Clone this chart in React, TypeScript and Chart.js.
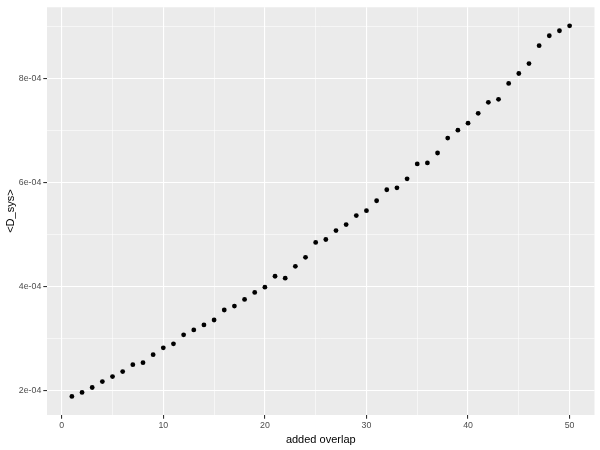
import { useEffect, useRef } from 'react';
import { Chart, registerables } from 'chart.js';

Chart.register(...registerables);

const addedOverlap: number[] = Array.from({ length: 50 }, (_, i) => i + 1);
const dSys: number[] = [
  1.891e-4, 1.968e-4, 2.063e-4, 2.178e-4, 2.273e-4, 2.369e-4, 2.503e-4, 2.541e-4, 2.694e-4, 2.827e-4,
  2.904e-4, 3.076e-4, 3.171e-4, 3.267e-4, 3.362e-4, 3.554e-4, 3.630e-4, 3.758e-4, 3.892e-4, 3.993e-4,
  4.203e-4, 4.165e-4, 4.394e-4, 4.566e-4, 4.853e-4, 4.910e-4, 5.082e-4, 5.197e-4, 5.369e-4, 5.464e-4,
  5.655e-4, 5.866e-4, 5.904e-4, 6.076e-4, 6.363e-4, 6.382e-4, 6.573e-4, 6.860e-4, 7.012e-4, 7.146e-4,
  7.337e-4, 7.547e-4, 7.605e-4, 7.911e-4, 8.102e-4, 8.293e-4, 8.637e-4, 8.828e-4, 8.924e-4, 9.019e-4,
];
const xTicks: number[] = [0, 5, 10, 15, 20, 25, 30, 35, 40, 45, 50];
const xMajor: number[] = [0, 10, 20, 30, 40, 50];
const yTicks: number[] = [2e-4, 3e-4, 4e-4, 5e-4, 6e-4, 7e-4, 8e-4, 9e-4];
const yMajorLabels: Record<string, string> = {
  '2': '2e-04',
  '4': '4e-04',
  '6': '6e-04',
  '8': '8e-04',
};

const yKey = (v: number) => String(Math.round(v * 1e4));
const isYMajor = (v: number) => yKey(v) in yMajorLabels;
const isXMajor = (v: number) => xMajor.includes(Math.round(v));

const panelBg = {
  id: 'panelBg',
  beforeDraw(chart: any) {
    const { ctx, chartArea } = chart;
    ctx.save();
    ctx.fillStyle = '#EBEBEB';
    ctx.fillRect(chartArea.left, chartArea.top, chartArea.right - chartArea.left, chartArea.bottom - chartArea.top);
    ctx.restore();
  },
};

export default function App() {
  const ref = useRef<HTMLCanvasElement>(null);
  useEffect(() => {
    document.body.style.margin = '0';
    const xMin = Math.min(...addedOverlap);
    const xMax = Math.max(...addedOverlap);
    const yMin = Math.min(...dSys);
    const yMax = Math.max(...dSys);
    const xe = (xMax - xMin) * 0.05;
    const ye = (yMax - yMin) * 0.05;
    const chart = new Chart(ref.current!, {
      type: 'scatter',
      data: {
        datasets: [
          {
            data: addedOverlap.map((x, i) => ({ x, y: dSys[i] })),
            backgroundColor: '#000000',
            borderWidth: 0,
            pointRadius: 2.4,
            pointHoverRadius: 2.4,
          },
        ],
      },
      plugins: [panelBg],
      options: {
        animation: false,
        responsive: false,
        maintainAspectRatio: false,
        layout: { padding: { top: 5.5, right: 5.5, left: 0, bottom: 0 } },
        plugins: { legend: { display: false }, tooltip: { enabled: false } },
        scales: {
          x: {
            type: 'linear',
            min: xMin - xe,
            max: xMax + xe,
            afterBuildTicks: (s: any) => {
              s.ticks = xTicks.map((v) => ({ value: v }));
            },
            afterFit: (s: any) => {
              s.height = 35;
            },
            border: { display: false },
            grid: {
              color: '#FFFFFF',
              lineWidth: (c: any) => (isXMajor(c.tick.value) ? 1.1 : 0.55),
              tickColor: (c: any) => (isXMajor(c.tick.value) ? '#333333' : 'rgba(0,0,0,0)'),
              tickLength: 3.7,
              tickWidth: 1.1,
            },
            ticks: {
              autoSkip: false,
              maxRotation: 0,
              padding: 1.5,
              color: '#4D4D4D',
              font: { family: 'Liberation Sans, Arial, sans-serif', size: 8.8 },
              callback: (v: any) => (isXMajor(Number(v)) ? String(v) : ''),
            },
            title: {
              display: true,
              text: 'added overlap',
              color: '#000000',
              font: { family: 'Liberation Sans, Arial, sans-serif', size: 11 },
              padding: { top: 0, bottom: 3 },
            },
          },
          y: {
            type: 'linear',
            min: yMin - ye,
            max: yMax + ye,
            afterBuildTicks: (s: any) => {
              s.ticks = yTicks.map((v) => ({ value: v }));
            },
            afterFit: (s: any) => {
              s.width = 47;
            },
            border: { display: false },
            grid: {
              color: '#FFFFFF',
              lineWidth: (c: any) => (isYMajor(c.tick.value) ? 1.1 : 0.55),
              tickColor: (c: any) => (isYMajor(c.tick.value) ? '#333333' : 'rgba(0,0,0,0)'),
              tickLength: 3.7,
              tickWidth: 1.1,
            },
            ticks: {
              autoSkip: false,
              padding: 2,
              color: '#4D4D4D',
              font: { family: 'Liberation Sans, Arial, sans-serif', size: 8.8 },
              callback: (v: any) => yMajorLabels[yKey(Number(v))] ?? '',
            },
            title: {
              display: true,
              text: '<D_sys>',
              color: '#000000',
              font: { family: 'Liberation Sans, Arial, sans-serif', size: 11 },
              padding: { top: 4, bottom: 0 },
            },
          },
        },
      },
    });
    return () => chart.destroy();
  }, []);
  return (
    <div style={{ position: 'absolute', left: 0, top: 0, width: 600, height: 450, background: '#FFFFFF' }}>
      <canvas ref={ref} width={600} height={450} style={{ width: 600, height: 450, display: 'block' }} />
    </div>
  );
}
